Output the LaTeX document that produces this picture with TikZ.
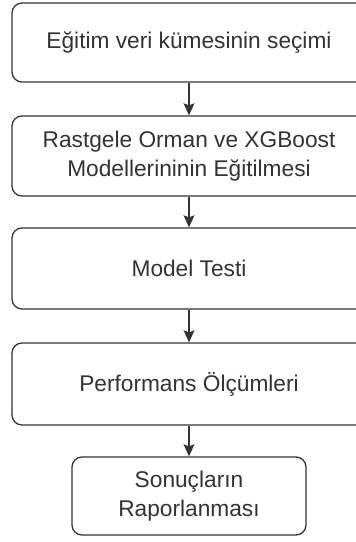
\documentclass[tikz,border=0pt]{standalone}
\usepackage{fontspec}
\setmainfont{Liberation Sans}
\usetikzlibrary{arrows.meta}
\definecolor{ink}{HTML}{333333}
\begin{document}
\begin{tikzpicture}[x=0.5pt,y=-0.5pt,
  box/.style={draw=ink, line width=0.65pt, rounded corners=5pt, fill=white,
    text=ink, align=center, inner sep=0pt,
    font=\fontsize{11.35pt}{14.3pt}\selectfont},
  wide/.style={box, minimum width=177pt},
  conn/.style={draw=ink, line width=0.65pt, -{Stealth[length=6pt,width=5.4pt,inset=1pt]}}]
\useasboundingbox (0,0) rectangle (355,542);
\node[wide, minimum height=39.5pt] (b1) at (189,42.5) {Eğitim veri kümesinin seçimi};
\node[wide, minimum height=40pt] (b2) at (189,156) {Rastgele Orman ve XGBoost\\Modellerininin Eğitilmesi};
\node[wide, minimum height=40.5pt] (b3) at (189,268.5) {Model Testi};
\node[wide, minimum height=41pt] (b4) at (189,384) {Performans Ölçümleri};
\node[box, minimum width=117pt, minimum height=39pt] (b5) at (189,496) {Sonuçların\\Raporlanması};
\draw[conn] (b1.south) -- (b2.north);
\draw[conn] (b2.south) -- (b3.north);
\draw[conn] (b3.south) -- (b4.north);
\draw[conn] (b4.south) -- (b5.north);
\end{tikzpicture}
\end{document}
